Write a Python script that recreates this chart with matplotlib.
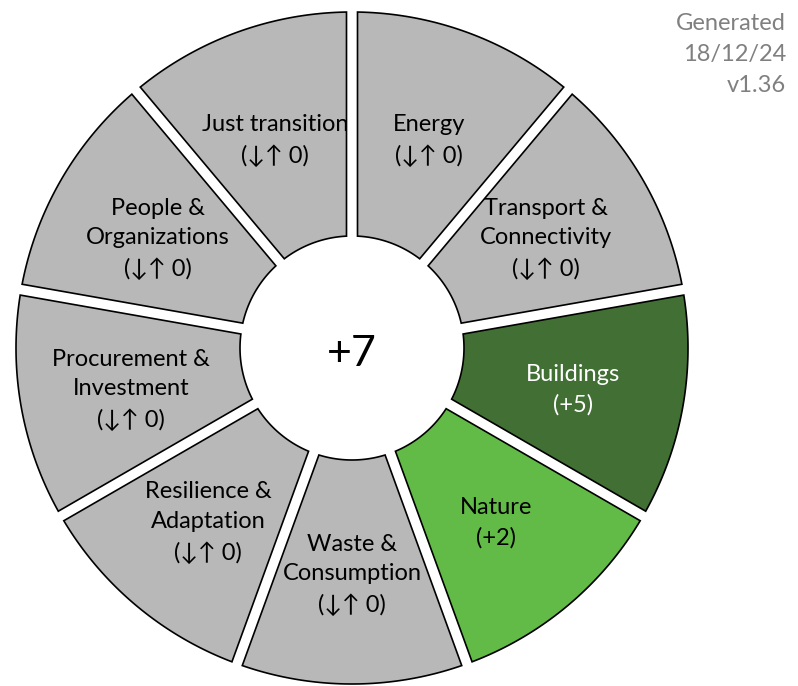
import numpy as np
import matplotlib
matplotlib.use("Agg")
import matplotlib.pyplot as plt
from matplotlib.patches import Polygon

plt.rcParams['font.family'] = ['Lato', 'DejaVu Sans']

# segments clockwise from 12 o'clock
categories = ["Energy", "Transport &\nConnectivity", "Buildings", "Nature", "Waste &\nConsumption",
              "Resilience &\nAdaptation", "Procurement &\nInvestment", "People &\nOrganizations",
              "Just transition"]
scores = [0, 0, 5, 2, 0, 0, 0, 0, 0]
total = "+7"
stamp = ["Generated", "18/12/24", "v1.36"]


def seg_color(s):
    if s >= 5:
        return "#416F34"
    if s > 0:
        return "#62BB46"
    return "#B8B8B8"


def score_text(s):
    if s == 0:
        return "(\u2193\u2191 0)"
    return f"(+{s})"


W, H = 798, 686
cx, cy = 352, 348
r_out, r_in = 336, 112
half_gap = 5.5

fig = plt.figure(figsize=(W / 100, H / 100), dpi=100)
ax = fig.add_axes([0, 0, 1, 1])
ax.set_xlim(0, W)
ax.set_ylim(H, 0)
ax.set_aspect('equal')
ax.axis('off')

n = len(categories)
step = 360 / n


def pt(r, a):
    # a: degrees clockwise from top
    t = np.radians(a)
    return cx + r * np.sin(t), cy - r * np.cos(t)


for i, (cat, s) in enumerate(zip(categories, scores)):
    a0, a1 = i * step, (i + 1) * step
    do = np.degrees(np.arcsin(half_gap / r_out))
    di = np.degrees(np.arcsin(half_gap / r_in))
    outer = [pt(r_out, a) for a in np.linspace(a0 + do, a1 - do, 60)]
    inner = [pt(r_in, a) for a in np.linspace(a1 - di, a0 + di, 30)]
    ax.add_patch(Polygon(outer + inner, closed=True, facecolor=seg_color(s),
                         edgecolor="black", linewidth=1.2, joinstyle='miter'))
    mx, my = pt((r_in + r_out) / 2, (a0 + a1) / 2)
    tc = "white" if s >= 5 else "black"
    ax.text(mx, my + 3, cat + "\n" + score_text(s), ha='center', va='center', fontsize=17,
            color=tc, linespacing=1.5)

ax.text(cx, cy + 6, total, ha='center', va='center', fontsize=31, color="black")

ax.text(786, 13, "\n".join(stamp), ha='right', va='top', fontsize=17, color="#808080",
        linespacing=1.58)

fig.savefig("out.png", dpi=100)
